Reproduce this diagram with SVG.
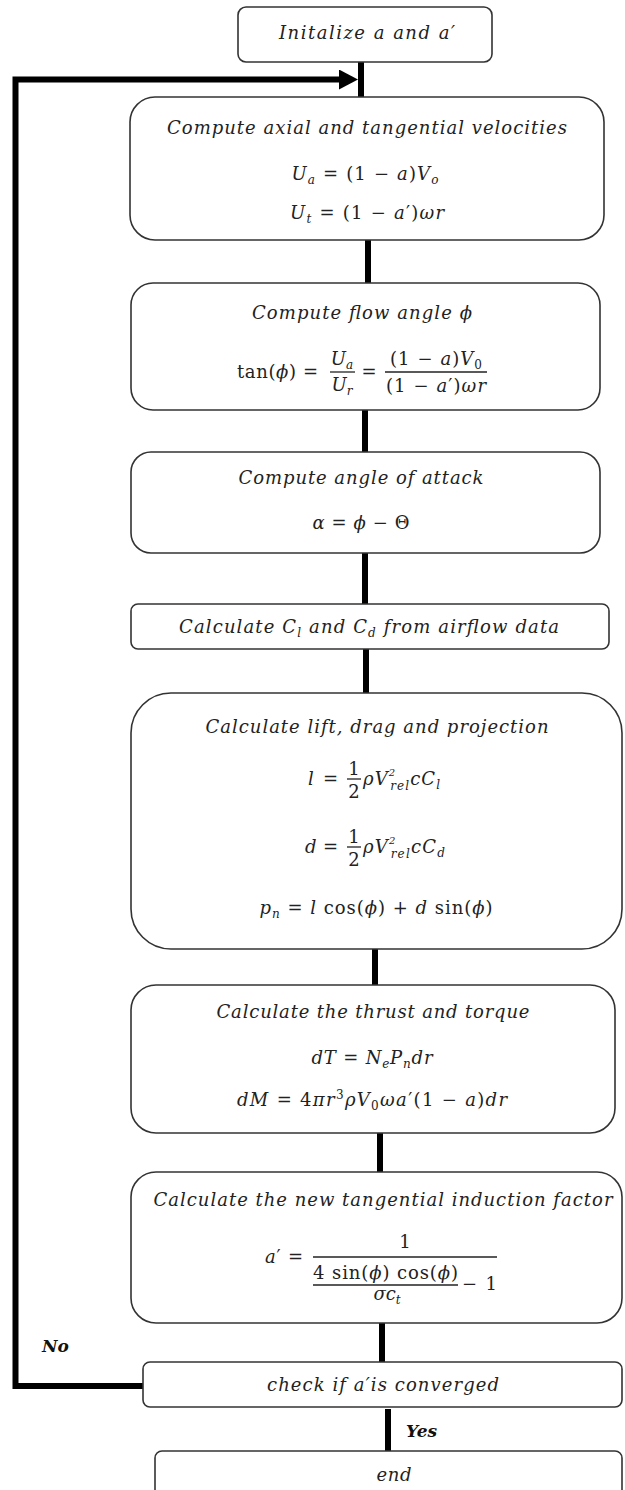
<svg xmlns="http://www.w3.org/2000/svg" width="625" height="1490" viewBox="0 0 625 1490">
<style>
.box{fill:#fff;stroke:#333;stroke-width:1.6}
.con{fill:none;stroke:#000;stroke-width:6}
.t{font-family:"DejaVu Serif",serif;font-style:italic;font-size:18px;fill:#222;text-anchor:middle}
.m{font-family:"DejaVu Serif",serif;font-size:18px;fill:#222}
.c{text-anchor:middle}
.s{text-anchor:start}
.i{font-style:italic}
.sb{font-size:12px}
.sp{font-size:10px}
.lbl{font-family:"DejaVu Serif",serif;font-style:italic;font-weight:bold;font-size:17px;fill:#111}
.fl{stroke:#222;stroke-width:1.3}
</style>
<defs>
<marker id="arr" markerUnits="userSpaceOnUse" viewBox="0 0 20 20" markerWidth="20" markerHeight="20" refX="1" refY="10" orient="auto">
<path d="M0,0 L19,10 L0,20 z" fill="#000"/>
</marker>
</defs>

<g id="connectors">
<line class="con" x1="361" y1="62" x2="361" y2="97"/>
<line class="con" x1="368" y1="240" x2="368" y2="283"/>
<line class="con" x1="365" y1="410" x2="365" y2="452"/>
<line class="con" x1="365" y1="553" x2="365" y2="604"/>
<line class="con" x1="366" y1="649" x2="366" y2="693"/>
<line class="con" x1="375" y1="949" x2="375" y2="985"/>
<line class="con" x1="380" y1="1133" x2="380" y2="1172"/>
<line class="con" x1="382" y1="1323" x2="382" y2="1362"/>
<line class="con" x1="388" y1="1409" x2="388" y2="1451"/>
<path class="con" d="M143,1386 H15.5 V79.5 H340" marker-end="url(#arr)"/>
<text class="lbl" x="42" y="1352">No</text>
<text class="lbl" x="406" y="1437">Yes</text>
</g>

<g id="n-init">
<rect class="box" x="238" y="7" width="254" height="55" rx="8"/>
<text class="t" x="367" y="39" textLength="176" lengthAdjust="spacing">Initalize a and a′</text>
</g>

<g id="n-velocities">
<rect class="box" x="130" y="97" width="474" height="143" rx="25"/>
<text class="t" x="367" y="134" textLength="400" lengthAdjust="spacing">Compute axial and tangential velocities</text>
<text class="m c" x="365" y="180" textLength="147" lengthAdjust="spacing"><tspan class="i">U</tspan><tspan class="i sb" dy="4">a</tspan><tspan dy="-4"> = (1 − </tspan><tspan class="i">a</tspan>)<tspan class="i">V</tspan><tspan class="i sb" dy="4">o</tspan></text>
<text class="m c" x="367" y="219" textLength="154" lengthAdjust="spacing"><tspan class="i">U</tspan><tspan class="i sb" dy="4">t</tspan><tspan dy="-4"> = (1 − </tspan><tspan class="i">a</tspan>′)<tspan class="i">ωr</tspan></text>
</g>

<g id="n-flow-angle">
<rect class="box" x="131" y="283" width="469" height="127" rx="22"/>
<text class="t" x="362" y="319" textLength="220" lengthAdjust="spacing">Compute flow angle ϕ</text>
<text class="m s" x="237" y="378" textLength="81" lengthAdjust="spacing">tan(<tspan class="i">ϕ</tspan>) =</text>
<text class="m c" x="342" y="365"><tspan class="i">U</tspan><tspan class="i sb" dy="4">a</tspan></text>
<line class="fl" x1="330" y1="372" x2="355" y2="372"/>
<text class="m c" x="342" y="391"><tspan class="i">U</tspan><tspan class="i sb" dy="4">r</tspan></text>
<text class="m c" x="369" y="378">=</text>
<text class="m c" x="436" y="365" textLength="92" lengthAdjust="spacing">(1 − <tspan class="i">a</tspan>)<tspan class="i">V</tspan><tspan class="sb" dy="4">0</tspan></text>
<line class="fl" x1="385" y1="372" x2="487" y2="372"/>
<text class="m c" x="436" y="392" textLength="100" lengthAdjust="spacing">(1 − <tspan class="i">a</tspan>′)<tspan class="i">ωr</tspan></text>
</g>

<g id="n-attack">
<rect class="box" x="131" y="452" width="469" height="101" rx="20"/>
<text class="t" x="361" y="484" textLength="245" lengthAdjust="spacing">Compute angle of attack</text>
<text class="m c" x="361" y="529" textLength="97" lengthAdjust="spacing"><tspan class="i">α</tspan> = <tspan class="i">ϕ</tspan> − Θ</text>
</g>

<g id="n-coeffs">
<rect class="box" x="131" y="604" width="478" height="45" rx="7"/>
<text class="t" x="369" y="633" textLength="380" lengthAdjust="spacing">Calculate C<tspan class="sb" dy="4">l</tspan><tspan dy="-4"> and C</tspan><tspan class="sb" dy="4">d</tspan><tspan dy="-4"> from airflow data</tspan></text>
</g>

<g id="n-lift">
<rect class="box" x="131" y="693" width="491" height="256" rx="40"/>
<text class="t" x="377" y="733" textLength="343" lengthAdjust="spacing">Calculate lift, drag and projection</text>
<text class="m s" x="308" y="785" textLength="30" lengthAdjust="spacing"><tspan class="i">l</tspan> =</text>
<text class="m c" x="354" y="775">1</text>
<line class="fl" x1="347" y1="779" x2="361" y2="779"/>
<text class="m c" x="354" y="798">2</text>
<text class="m s i" x="363" y="785" textLength="77" lengthAdjust="spacing">ρV<tspan class="sp" dy="-9">2</tspan><tspan class="sb" dx="-6" dy="14">rel</tspan><tspan dy="-5">cC</tspan><tspan class="sb" dy="4">l</tspan></text>
<text class="m s" x="305" y="853" textLength="33" lengthAdjust="spacing"><tspan class="i">d</tspan> =</text>
<text class="m c" x="354" y="843">1</text>
<line class="fl" x1="347" y1="847" x2="361" y2="847"/>
<text class="m c" x="354" y="866">2</text>
<text class="m s i" x="363" y="853" textLength="82" lengthAdjust="spacing">ρV<tspan class="sp" dy="-9">2</tspan><tspan class="sb" dx="-6" dy="14">rel</tspan><tspan dy="-5">cC</tspan><tspan class="sb" dy="4">d</tspan></text>
<text class="m c" x="376" y="914" textLength="233" lengthAdjust="spacing"><tspan class="i">p</tspan><tspan class="i sb" dy="4">n</tspan><tspan dy="-4"> = </tspan><tspan class="i">l</tspan> cos(<tspan class="i">ϕ</tspan>) + <tspan class="i">d</tspan> sin(<tspan class="i">ϕ</tspan>)</text>
</g>

<g id="n-thrust">
<rect class="box" x="131" y="985" width="484" height="148" rx="25"/>
<text class="t" x="373" y="1018" textLength="313" lengthAdjust="spacing">Calculate the thrust and torque</text>
<text class="m c" x="372" y="1064" textLength="121" lengthAdjust="spacing"><tspan class="i">dT</tspan> = <tspan class="i">N</tspan><tspan class="i sb" dy="4">e</tspan><tspan class="i" dy="-4">P</tspan><tspan class="i sb" dy="4">n</tspan><tspan class="i" dy="-4">dr</tspan></text>
<text class="m c" x="372" y="1106" textLength="270" lengthAdjust="spacing"><tspan class="i">dM</tspan> = 4<tspan class="i">πr</tspan><tspan class="sb" dy="-7">3</tspan><tspan class="i" dy="7">ρV</tspan><tspan class="sb" dy="4">0</tspan><tspan class="i" dy="-4">ωa</tspan>′(1 − <tspan class="i">a</tspan>)<tspan class="i">dr</tspan></text>
</g>

<g id="n-induction">
<rect class="box" x="131" y="1172" width="491" height="151" rx="25"/>
<text class="t" x="383" y="1206" textLength="459" lengthAdjust="spacing">Calculate the new tangential induction factor</text>
<text class="m s" x="265" y="1263" textLength="38" lengthAdjust="spacing"><tspan class="i">a</tspan>′ =</text>
<text class="m c" x="405" y="1248">1</text>
<line class="fl" x1="313" y1="1257" x2="497" y2="1257"/>
<text class="m c" x="385.5" y="1279" textLength="145" lengthAdjust="spacing">4 sin(<tspan class="i">ϕ</tspan>) cos(<tspan class="i">ϕ</tspan>)</text>
<line class="fl" x1="313" y1="1285" x2="458" y2="1285"/>
<text class="m c i" x="387" y="1300">σc<tspan class="sb" dy="4">t</tspan></text>
<text class="m s" x="462" y="1290" textLength="35" lengthAdjust="spacing">− 1</text>
</g>

<g id="n-check">
<rect class="box" x="143" y="1362" width="479" height="45" rx="7"/>
<text class="t" x="383" y="1391" textLength="232" lengthAdjust="spacing">check if a′is converged</text>
</g>

<g id="n-end">
<rect class="box" x="155" y="1451" width="467" height="60" rx="7"/>
<text class="t" x="394" y="1481" textLength="35" lengthAdjust="spacing">end</text>
</g>
</svg>
